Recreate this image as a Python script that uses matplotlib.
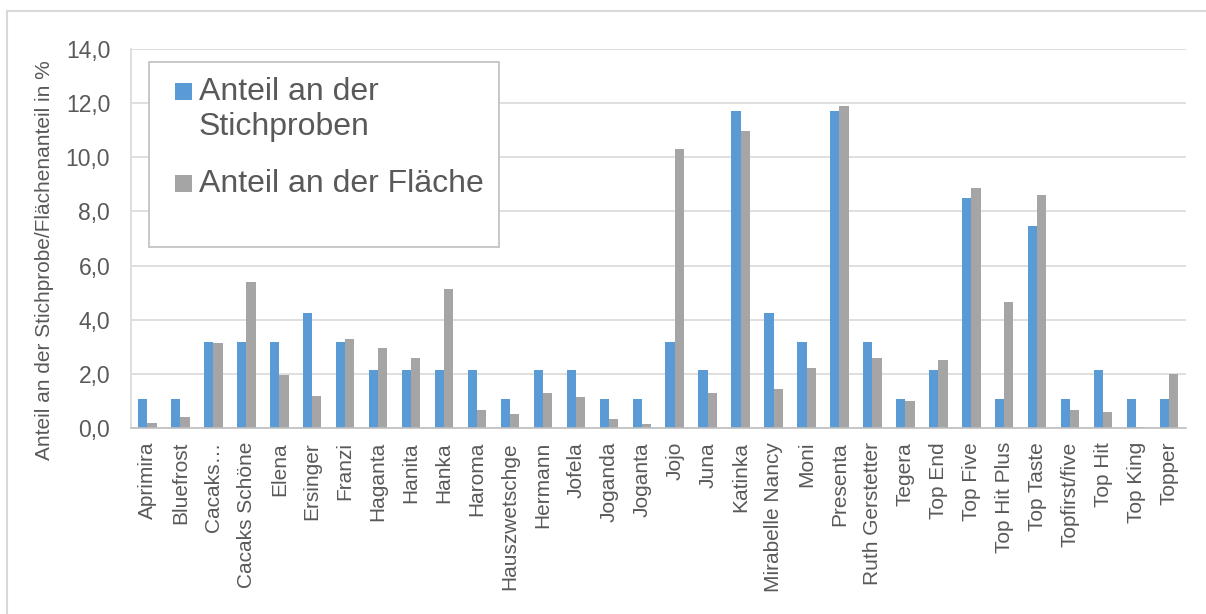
import matplotlib
matplotlib.use("Agg")
import matplotlib.pyplot as plt
import numpy as np
from matplotlib.patches import Rectangle
from matplotlib.lines import Line2D

W, H = 1206, 614

TEXT = "#595959"
GRID = "#d9d9d9"
BLUE = "#5b9bd5"
GREY = "#a5a5a5"

sorten = [
    "Aprimira", "Bluefrost", "Cacaks…", "Cacaks Schöne", "Elena", "Ersinger",
    "Franzi", "Haganta", "Hanita", "Hanka", "Haroma", "Hauszwetschge",
    "Hermann", "Jofela", "Joganda", "Joganta", "Jojo", "Juna", "Katinka",
    "Mirabelle Nancy", "Moni", "Presenta", "Ruth Gerstetter", "Tegera",
    "Top End", "Top Five", "Top Hit Plus", "Top Taste", "Topfirst/five",
    "Top Hit", "Top King", "Topper",
]
anteil_stichprobe = [
    1.06, 1.06, 3.19, 3.19, 3.19, 4.26, 3.19, 2.13, 2.13, 2.13, 2.13, 1.06,
    2.13, 2.13, 1.06, 1.06, 3.19, 2.13, 11.70, 4.26, 3.19, 11.70, 3.19, 1.06,
    2.13, 8.51, 1.06, 7.45, 1.06, 2.13, 1.06, 1.06,
]
anteil_flaeche = [
    0.18, 0.40, 3.15, 5.39, 1.97, 1.20, 3.30, 2.95, 2.60, 5.15, 0.65, 0.52,
    1.28, 1.13, 0.33, 0.13, 10.30, 1.30, 10.98, 1.45, 2.20, 11.90, 2.58, 1.00,
    2.50, 8.85, 4.65, 8.60, 0.66, 0.58, 0.05, 1.98,
]
y_ticks = [0, 2, 4, 6, 8, 10, 12, 14]
legend_labels = ["Anteil an der\nStichproben", "Anteil an der Fläche"]

plt.rcParams["font.family"] = ["Liberation Sans", "DejaVu Sans"]

fig = plt.figure(figsize=(W / 100, H / 100), dpi=100)


def fx(px):
    return px / W


def fy(py):
    return 1 - py / H


# outer chart frame (runs past the right and bottom edge)
fig.add_artist(Line2D([fx(7), fx(7)], [fy(11), 0], color=GRID, lw=1.5,
                      transform=fig.transFigure))
fig.add_artist(Line2D([fx(7), 1], [fy(11), fy(11)], color=GRID, lw=1.5,
                      transform=fig.transFigure))

ax = fig.add_axes([fx(131), fy(428), fx(1185.5) - fx(131), fy(49) - fy(428)])

x = np.arange(len(sorten))
bw = 0.28
ax.bar(x - bw / 2, anteil_stichprobe, bw, color=BLUE, zorder=3)
ax.bar(x + bw / 2, anteil_flaeche, bw, color=GREY, zorder=3)

ax.set_xlim(-0.5, len(sorten) - 0.5)
ax.set_ylim(0, 14)
ax.set_yticks(y_ticks)
ax.set_yticklabels([f"{t:.1f}".replace(".", ",") for t in y_ticks])
ax.set_xticks(x)
ax.set_xticklabels(sorten, rotation=90)
ax.tick_params(axis="y", length=0, pad=15, labelsize=16.5, labelcolor=TEXT)
ax.tick_params(axis="x", length=0, pad=10, labelsize=15, labelcolor=TEXT)

ax.grid(axis="y", color=GRID, lw=1.2, zorder=0)
ax.set_axisbelow(True)
for side in ("top", "right"):
    ax.spines[side].set_visible(False)
ax.spines["left"].set_color(GRID)
ax.spines["left"].set_linewidth(1.2)
ax.spines["bottom"].set_color("#bfbfbf")
ax.spines["bottom"].set_linewidth(1.2)
ax.spines["bottom"].set_zorder(4)

fig.text(fx(45), fy(260), "Anteil an der Stichprobe/Flächenanteil in %",
         rotation=90, ha="center", va="center", fontsize=15, color=TEXT)

# legend box drawn by hand so the markers sit on the first text line
fig.add_artist(Rectangle((fx(148.5), fy(247)), fx(499.4) - fx(148.5),
                         fy(62) - fy(247), transform=fig.transFigure,
                         facecolor="white", edgecolor="#bfbfbf", lw=1.2,
                         zorder=5))
for (top, color, label, base) in [(83, BLUE, legend_labels[0], 100),
                                  (175, GREY, legend_labels[1], 192)]:
    fig.add_artist(Rectangle((fx(175), fy(top + 17)), fx(17) - fx(0),
                             fy(top) - fy(top + 17), transform=fig.transFigure,
                             facecolor=color, edgecolor="none", zorder=6))
    fig.text(fx(199), fy(base), label.split("\n")[0], ha="left",
             va="baseline", fontsize=23, color=TEXT, zorder=6)
    if "\n" in label:
        fig.text(fx(199), fy(base + 35), label.split("\n")[1], ha="left",
                 va="baseline", fontsize=23, color=TEXT, zorder=6)

fig.savefig("out.png", dpi=100, facecolor="white")
